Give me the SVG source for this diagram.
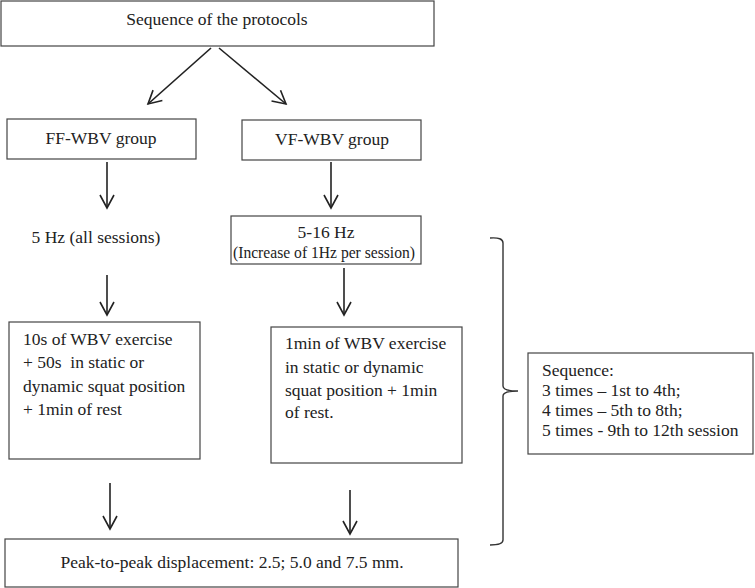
<svg xmlns="http://www.w3.org/2000/svg" width="755" height="588" viewBox="0 0 755 588">
<defs>
<marker id="ah" viewBox="0 0 16 16" refX="14" refY="8" markerWidth="16" markerHeight="16" markerUnits="userSpaceOnUse" orient="auto">
<path d="M1,1 L14,8 L1,15" fill="none" stroke="#222" stroke-width="1.6"/>
</marker>
<style>
.box{fill:#fff;stroke:#444;stroke-width:1.2}
.t{font-family:"Liberation Serif","Times New Roman",serif;font-size:17.5px;fill:#222}
.c{text-anchor:middle}
.ln{stroke:#222;stroke-width:1.6;fill:none;marker-end:url(#ah)}
.br{stroke:#333;stroke-width:1.4;fill:none}
</style>
</defs>
<rect width="755" height="588" fill="#fff"/>
<g id="top">
<rect class="box" x="1" y="1" width="433" height="45"/>
<text class="t c" x="217" y="25">Sequence of the protocols</text>
</g>
<g id="ff">
<rect class="box" x="7" y="119" width="189" height="40"/>
<text class="t c" x="101" y="144">FF-WBV group</text>
</g>
<g id="vf">
<rect class="box" x="242" y="120" width="179" height="40"/>
<text class="t c" x="332" y="145">VF-WBV group</text>
</g>
<g id="ff-hz">
<text class="t c" x="96" y="243">5 Hz (all sessions)</text>
</g>
<g id="vf-hz">
<rect class="box" x="231" y="216" width="190" height="48"/>
<text class="t c" x="326" y="238">5-16 Hz</text>
<text class="t" x="233" y="258" style="font-size:17px" textLength="182" lengthAdjust="spacingAndGlyphs">(Increase of 1Hz per session)</text>
</g>
<g id="ff-ex">
<rect class="box" x="9" y="322" width="191" height="137"/>
<text class="t" x="23" y="345">10s of WBV exercise</text>
<text class="t" x="23" y="368" xml:space="preserve">+ 50s  in static or</text>
<text class="t" x="23" y="392">dynamic squat position</text>
<text class="t" x="23" y="415">+ 1min of rest</text>
</g>
<g id="vf-ex">
<rect class="box" x="271" y="327" width="191" height="136"/>
<text class="t" x="285" y="349">1min of WBV exercise</text>
<text class="t" x="285" y="373">in static or dynamic</text>
<text class="t" x="285" y="396">squat position + 1min</text>
<text class="t" x="285" y="418">of rest.</text>
</g>
<g id="peak">
<rect class="box" x="5" y="539" width="453" height="48"/>
<text class="t c" x="232" y="568">Peak-to-peak displacement: 2.5; 5.0 and 7.5 mm.</text>
</g>
<g id="seq">
<rect class="box" x="528" y="353" width="225" height="101"/>
<text class="t" x="542" y="376">Sequence:</text>
<text class="t" x="542" y="396">3 times – 1st to 4th;</text>
<text class="t" x="542" y="416">4 times – 5th to 8th;</text>
<text class="t" x="542" y="436">5 times - 9th to 12th session</text>
</g>
<g id="connectors">
<line class="ln" x1="211" y1="48" x2="148" y2="104"/>
<line class="ln" x1="219" y1="48" x2="286" y2="104"/>
<line class="ln" x1="107" y1="162" x2="107" y2="208"/>
<line class="ln" x1="331" y1="162" x2="331" y2="208"/>
<line class="ln" x1="107" y1="275" x2="107" y2="315"/>
<line class="ln" x1="344" y1="268" x2="344" y2="315"/>
<line class="ln" x1="110" y1="483" x2="110" y2="529"/>
<line class="ln" x1="350" y1="490" x2="350" y2="534"/>
<path class="br" d="M490,238 Q503,237 503,243 L503,386 Q503,391 518,391 Q503,391 503,396 L503,540 Q503,545 490,545"/>
</g>
</svg>
